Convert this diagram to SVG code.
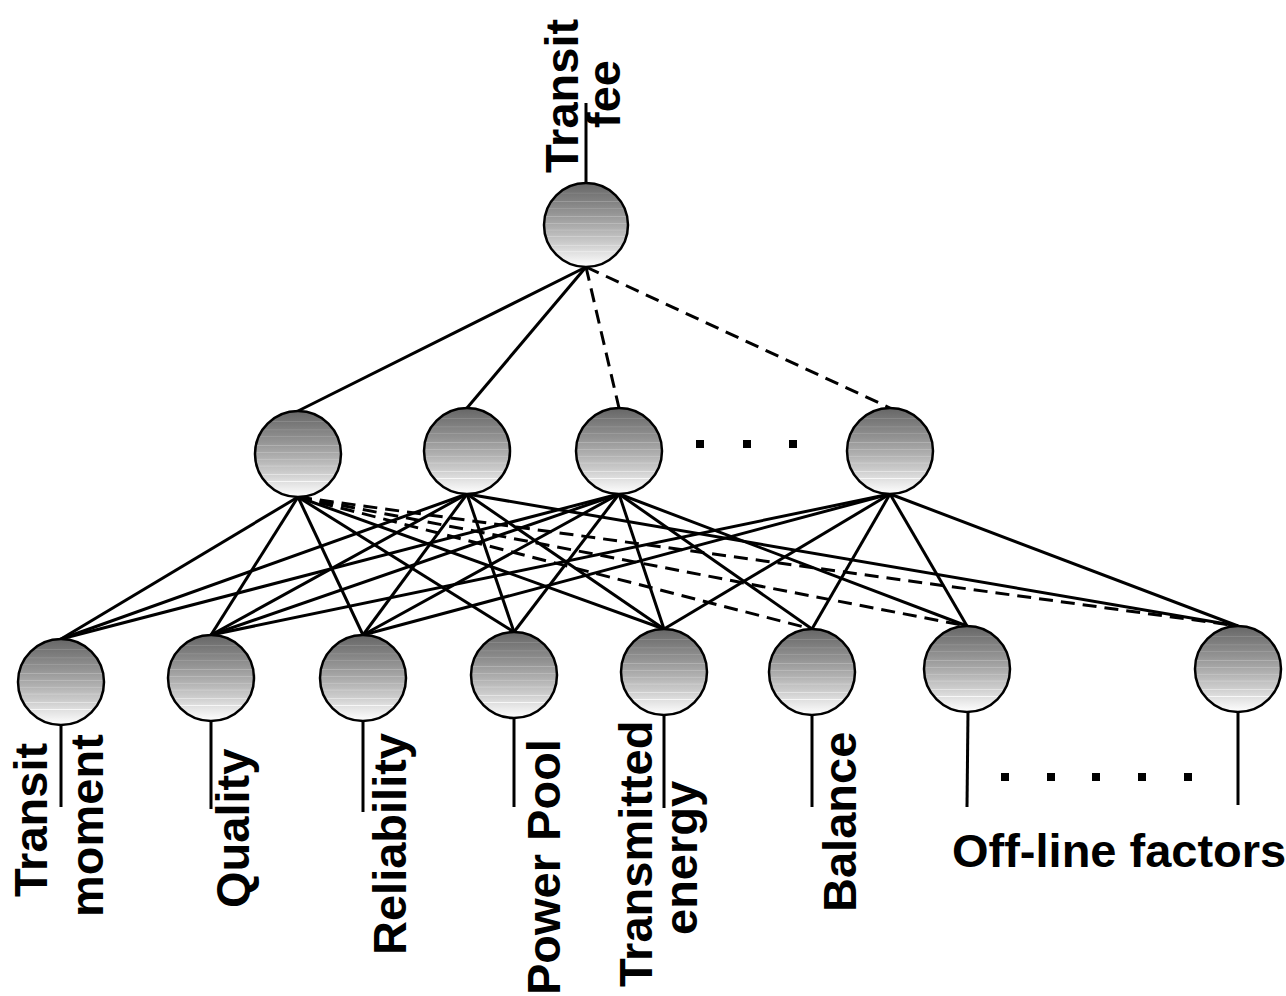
<svg xmlns="http://www.w3.org/2000/svg" width="1286" height="996" viewBox="0 0 1286 996">
  <defs>
    <!-- shaded ball fill: dark top to white bottom, with thin lighter bands -->
    <linearGradient id="ball" x1="0" y1="0" x2="0" y2="1">
      <stop offset="0" stop-color="#666666"/>
      <stop offset="0.112" stop-color="#757575"/>
      <stop offset="0.12" stop-color="#8e8e8e"/>
      <stop offset="0.128" stop-color="#767676"/>
      <stop offset="0.212" stop-color="#818181"/>
      <stop offset="0.22" stop-color="#9b9b9b"/>
      <stop offset="0.228" stop-color="#838383"/>
      <stop offset="0.292" stop-color="#8c8c8c"/>
      <stop offset="0.30" stop-color="#a6a6a6"/>
      <stop offset="0.308" stop-color="#8e8e8e"/>
      <stop offset="0.35" stop-color="#939393"/>
      <stop offset="0.392" stop-color="#9a9a9a"/>
      <stop offset="0.40" stop-color="#b4b4b4"/>
      <stop offset="0.408" stop-color="#9c9c9c"/>
      <stop offset="0.472" stop-color="#a6a6a6"/>
      <stop offset="0.48" stop-color="#c0c0c0"/>
      <stop offset="0.488" stop-color="#a8a8a8"/>
      <stop offset="0.552" stop-color="#b2b2b2"/>
      <stop offset="0.56" stop-color="#cccccc"/>
      <stop offset="0.568" stop-color="#b4b4b4"/>
      <stop offset="0.632" stop-color="#bfbfbf"/>
      <stop offset="0.64" stop-color="#d9d9d9"/>
      <stop offset="0.648" stop-color="#c1c1c1"/>
      <stop offset="0.70" stop-color="#c9c9c9"/>
      <stop offset="0.732" stop-color="#cfcfcf"/>
      <stop offset="0.74" stop-color="#e9e9e9"/>
      <stop offset="0.748" stop-color="#d1d1d1"/>
      <stop offset="0.812" stop-color="#dedede"/>
      <stop offset="0.82" stop-color="#f8f8f8"/>
      <stop offset="0.828" stop-color="#e0e0e0"/>
      <stop offset="1" stop-color="#ffffff"/>
    </linearGradient>
  </defs>
  <style>
    .node { fill: url(#ball); stroke: #000; stroke-width: 2.5; }
    .link { stroke: #000; stroke-width: 3; fill: none; stroke-linecap: butt; }
    .dash { stroke-dasharray: 14 8; }
    .lead { stroke: #000; stroke-width: 3; }
    .lbl { font-family: "Liberation Sans", Arial, sans-serif; font-weight: bold; font-size: 47px; fill: #000; }
    .dot { fill: #000; }
  </style>

  <rect width="1286" height="996" fill="#fff"/>

  <!-- connectors: output -> hidden -> inputs -->
  <g id="connectors">
    <!-- output node to hidden layer -->
    <line class="link" x1="586" y1="267" x2="298" y2="411"/>
    <line class="link" x1="586" y1="267" x2="467" y2="408"/>
    <line class="link dash" x1="586" y1="267" x2="619" y2="408"/>
    <line class="link dash" x1="586" y1="267" x2="890" y2="408"/>

    <!-- hidden 1 -->
    <line class="link" x1="298" y1="497" x2="61" y2="639"/>
    <line class="link" x1="298" y1="497" x2="211" y2="635"/>
    <line class="link" x1="298" y1="497" x2="363" y2="635"/>
    <line class="link" x1="298" y1="497" x2="514" y2="632"/>
    <line class="link" x1="298" y1="497" x2="664" y2="629"/>
    <line class="link dash" x1="298" y1="497" x2="812" y2="629"/>
    <line class="link dash" x1="298" y1="497" x2="967" y2="626"/>
    <line class="link dash" x1="298" y1="497" x2="1238" y2="626"/>

    <!-- hidden 2 -->
    <line class="link" x1="467" y1="494" x2="61" y2="639"/>
    <line class="link" x1="467" y1="494" x2="211" y2="635"/>
    <line class="link" x1="467" y1="494" x2="363" y2="635"/>
    <line class="link" x1="467" y1="494" x2="514" y2="632"/>
    <line class="link" x1="467" y1="494" x2="664" y2="629"/>
    <line class="link" x1="467" y1="494" x2="1238" y2="626"/>

    <!-- hidden 3 -->
    <line class="link" x1="619" y1="494" x2="61" y2="639"/>
    <line class="link" x1="619" y1="494" x2="211" y2="635"/>
    <line class="link" x1="619" y1="494" x2="363" y2="635"/>
    <line class="link" x1="619" y1="494" x2="514" y2="632"/>
    <line class="link" x1="619" y1="494" x2="664" y2="629"/>
    <line class="link" x1="619" y1="494" x2="812" y2="629"/>
    <line class="link" x1="619" y1="494" x2="967" y2="626"/>

    <!-- hidden 4 -->
    <line class="link" x1="890" y1="494" x2="211" y2="635"/>
    <line class="link" x1="890" y1="494" x2="363" y2="635"/>
    <line class="link" x1="890" y1="494" x2="664" y2="629"/>
    <line class="link" x1="890" y1="494" x2="812" y2="629"/>
    <line class="link" x1="890" y1="494" x2="967" y2="626"/>
    <line class="link" x1="890" y1="494" x2="1238" y2="626"/>
  </g>

  <!-- output node -->
  <g id="out">
    <line class="lead" x1="586" y1="183" x2="586" y2="103"/>
    <circle class="node" cx="586" cy="225" r="42"/>
    <text class="lbl" transform="translate(578,173) rotate(-90)">Transit</text>
    <text class="lbl" transform="translate(620,128) rotate(-90)">fee</text>
  </g>

  <!-- hidden layer -->
  <g id="h1"><circle class="node" cx="298" cy="454" r="43"/></g>
  <g id="h2"><circle class="node" cx="467" cy="451" r="43"/></g>
  <g id="h3"><circle class="node" cx="619" cy="451" r="43"/></g>
  <g id="h4"><circle class="node" cx="890" cy="451" r="43"/></g>
  <g id="hidden-dots">
    <rect class="dot" x="696" y="440" width="8" height="8"/>
    <rect class="dot" x="743" y="440" width="8" height="8"/>
    <rect class="dot" x="789" y="440" width="8" height="8"/>
  </g>

  <!-- input layer -->
  <g id="in-transit-moment">
    <line class="lead" x1="61" y1="725" x2="61" y2="807"/>
    <circle class="node" cx="61" cy="682" r="43"/>
    <text class="lbl" transform="translate(47,897) rotate(-90)">Transit</text>
    <text class="lbl" transform="translate(103,917) rotate(-90)">moment</text>
  </g>
  <g id="in-quality">
    <line class="lead" x1="211" y1="721" x2="211" y2="809"/>
    <circle class="node" cx="211" cy="678" r="43"/>
    <text class="lbl" transform="translate(249,908) rotate(-90)">Quality</text>
  </g>
  <g id="in-reliability">
    <line class="lead" x1="363" y1="721" x2="363" y2="812"/>
    <circle class="node" cx="363" cy="678" r="43"/>
    <text class="lbl" transform="translate(406,955) rotate(-90)">Reliability</text>
  </g>
  <g id="in-power-pool">
    <line class="lead" x1="514" y1="718" x2="514" y2="807"/>
    <circle class="node" cx="514" cy="675" r="43"/>
    <text class="lbl" transform="translate(560,995) rotate(-90)">Power Pool</text>
  </g>
  <g id="in-transmitted-energy">
    <line class="lead" x1="664" y1="715" x2="664" y2="808"/>
    <circle class="node" cx="664" cy="672" r="43"/>
    <text class="lbl" transform="translate(652,987) rotate(-90)">Transmitted</text>
    <text class="lbl" transform="translate(697,935) rotate(-90)">energy</text>
  </g>
  <g id="in-balance">
    <line class="lead" x1="812" y1="715" x2="812" y2="807"/>
    <circle class="node" cx="812" cy="672" r="43"/>
    <text class="lbl" transform="translate(856,912) rotate(-90)">Balance</text>
  </g>
  <g id="in-offline-1">
    <line class="lead" x1="968" y1="712" x2="967" y2="807"/>
    <circle class="node" cx="967" cy="669" r="43"/>
  </g>
  <g id="in-offline-n">
    <line class="lead" x1="1238" y1="712" x2="1238" y2="805"/>
    <circle class="node" cx="1238" cy="669" r="43"/>
  </g>
  <g id="offline-dots">
    <rect class="dot" x="1001" y="773" width="8" height="8"/>
    <rect class="dot" x="1047" y="773" width="8" height="8"/>
    <rect class="dot" x="1092" y="773" width="8" height="8"/>
    <rect class="dot" x="1138" y="773" width="8" height="8"/>
    <rect class="dot" x="1184" y="773" width="8" height="8"/>
  </g>
  <text class="lbl" x="952" y="867">Off-line factors</text>
</svg>
